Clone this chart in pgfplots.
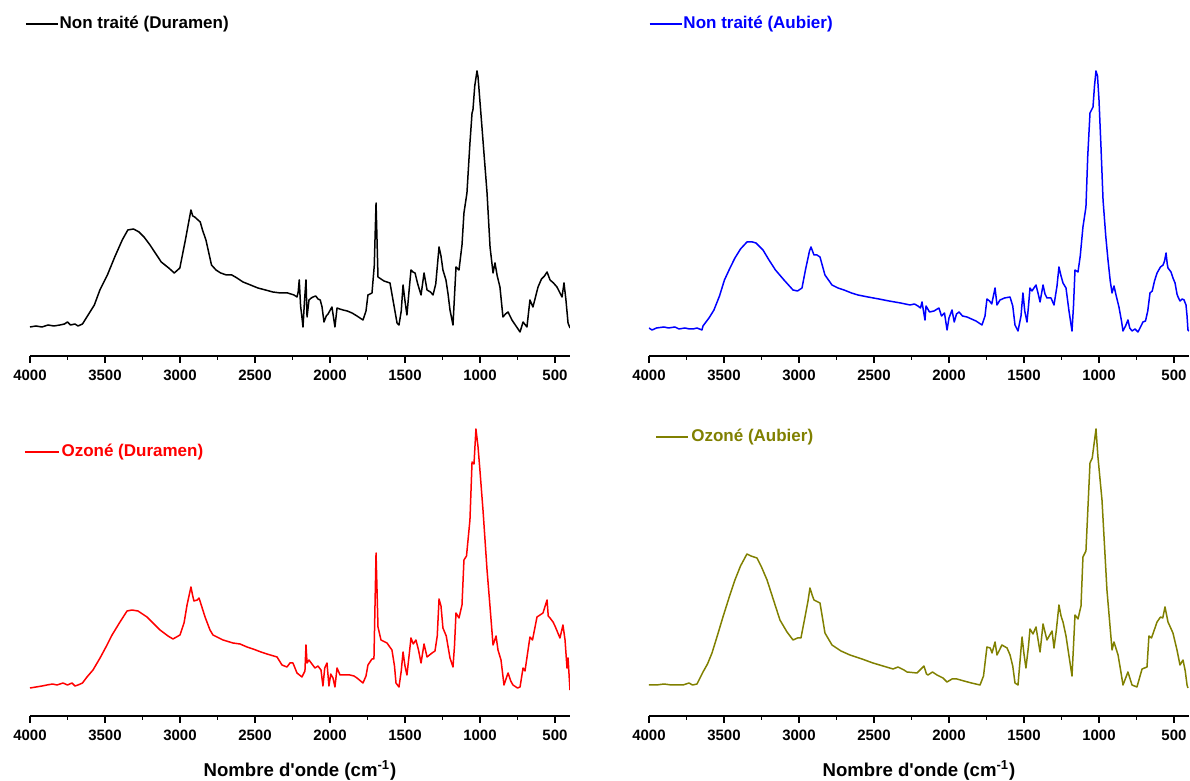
\documentclass[border=0pt]{standalone}
\usepackage{fontspec}
\setmainfont{Liberation Sans}
\usepackage{pgfplots}
\pgfplotsset{compat=1.18}
\definecolor{ozolive}{RGB}{128,128,0}

\pgfplotsset{
  ftir/.style={
    scale only axis, width=270pt, height=158pt,
    x dir=reverse, xmin=400, xmax=4000, ymin=0, ymax=316,
    axis x line=bottom, axis y line=none,
    axis line style={line width=0.8pt,-},
    xtick={500,1000,...,4000}, minor x tick num=1,
    tick align=outside, major tick length=3.5pt, minor tick length=2pt,
    every tick/.style={black,line width=0.8pt},
    x tick label style={font=\bfseries\fontsize{7.5}{9}\selectfont},
    /pgf/number format/assume math mode=true,
    /pgf/number format/set thousands separator={},
    legend style={draw=none, fill=none, inner sep=0pt, outer sep=0pt, anchor=west,
      font=\bfseries\fontsize{8.5}{10}\selectfont, nodes={inner sep=0.5pt}},
    legend cell align=left,
    legend image code/.code={\draw[#1] (0pt,0pt) -- (16pt,0pt);},
  },
  spec/.style={line width=0.75pt, line join=round},
  wlabel/.style={xlabel={Nombre d\textquotesingle onde (cm\textsuperscript{-1})},
    xlabel style={font=\bfseries\fontsize{9.3}{11}\selectfont,
      at={(axis description cs:0.5,0)}, anchor=base, yshift=-30.5pt}},
}

\begin{document}
\begin{tikzpicture}
\useasboundingbox (0,0) rectangle (595pt,390.5pt);

% Non traite (Duramen)
\begin{axis}[ftir, at={(15pt,212.5pt)}, anchor=south west,
  legend style={at={(axis description cs:-0.009,1.05)}}]
\addplot[spec, black] coordinates {
(4000,29) (3960,30) (3920,29) (3880,31) (3840,30) (3800,31) (3770,32) (3750,34) (3730,31)
(3700,32) (3680,30) (3650,32) (3621,39) (3571,51) (3534,66) (3484,81) (3435,99) (3385,116)
(3348,126) (3310,127) (3273,124) (3240,119) (3200,111) (3125,94) (3075,88) (3038,83) (3001,88)
(2964,116) (2927,146) (2915,140) (2902,139) (2865,134) (2850,126) (2827,116) (2790,91)
(2760,86) (2729,83) (2690,81) (2654,81) (2620,78) (2580,74) (2530,71) (2481,68) (2430,66)
(2381,64) (2330,63) (2282,63) (2240,61) (2220,59) (2212,64) (2205,76) (2196,50) (2188,40)
(2180,29) (2170,55) (2160,76) (2153,39) (2140,56) (2125,58) (2113,59) (2095,60) (2080,57)
(2065,56) (2053,49) (2040,34) (2025,40) (2013,42) (1987,49) (1967,29) (1953,48) (1935,47)
(1913,46) (1885,45) (1853,43) (1820,40) (1780,36) (1760,45) (1747,61) (1720,63) (1705,90)
(1693,153) (1680,79) (1660,77) (1640,75) (1600,73) (1580,56) (1553,33) (1540,31) (1525,45)
(1513,71) (1500,55) (1487,41) (1473,65) (1460,86) (1447,84) (1433,83) (1415,72) (1393,61)
(1373,83) (1353,66) (1330,64) (1313,61) (1295,72) (1273,109) (1260,100) (1247,86) (1227,76)
(1213,62) (1200,46) (1180,31) (1170,60) (1160,89) (1140,86) (1120,111) (1107,143) (1087,163)
(1067,213) (1053,243) (1047,246) (1035,270) (1020,285) (1013,279) (987,229) (953,163)
(933,109) (913,83) (900,93) (885,80) (867,69) (847,39) (830,42) (813,44) (787,36) (760,30)
(733,24) (713,34) (687,29) (667,56) (647,49) (613,69) (590,77) (570,80) (553,84) (533,76)
(510,73) (487,69) (470,64) (453,59) (440,73) (427,56) (413,33) (400,28)
};
\addlegendentry{Non traité (Duramen)}
\end{axis}

% Non traite (Aubier)
\begin{axis}[ftir, at={(324.5pt,212.5pt)}, anchor=south west,
  legend style={at={(axis description cs:0.0,1.05)}, text=blue}]
\addplot[spec, blue] coordinates {
(4000,28) (3980,26) (3950,28) (3900,29) (3870,28) (3827,29) (3800,27) (3760,28) (3730,27)
(3707,27) (3680,28) (3647,26) (3640,30) (3600,38) (3567,46) (3530,60) (3497,76) (3460,88)
(3427,98) (3390,107) (3347,114) (3310,114) (3287,113) (3240,106) (3200,96) (3157,86)
(3100,76) (3040,66) (3010,65) (2980,68) (2957,86) (2930,105) (2920,109) (2900,101)
(2880,101) (2860,99) (2827,81) (2780,71) (2740,68) (2700,66) (2650,63) (2607,61) (2540,59)
(2467,57) (2400,55) (2323,53) (2260,51) (2230,52) (2207,50) (2190,48) (2180,54) (2160,36)
(2153,50) (2130,44) (2100,45) (2067,48) (2050,40) (2030,43) (2013,26) (2000,38) (1980,46)
(1965,34) (1950,42) (1933,44) (1910,40) (1880,39) (1850,37) (1820,35) (1780,31) (1760,40)
(1747,57) (1730,55) (1715,52) (1693,68) (1680,51) (1660,56) (1630,58) (1593,59) (1575,50)
(1560,31) (1540,25) (1520,40) (1507,63) (1495,45) (1480,34) (1470,50) (1460,68) (1447,65)
(1420,71) (1405,62) (1393,54) (1373,71) (1360,62) (1347,58) (1320,58) (1300,51) (1280,70)
(1267,89) (1253,80) (1240,73) (1220,68) (1200,45) (1180,25) (1170,50) (1160,86) (1140,84)
(1125,100) (1107,129) (1087,149) (1075,200) (1060,243) (1040,249) (1030,270) (1020,285)
(1010,280) (1000,256) (987,210) (973,156) (955,120) (940,96) (925,75) (913,63) (900,70)
(885,60) (867,49) (850,35) (840,25) (823,30) (807,36) (795,28) (780,25) (760,27) (740,24)
(720,30) (707,34) (690,35) (675,45) (660,63) (645,65) (630,75) (613,83) (590,89) (573,91)
(563,95) (553,103) (545,92) (540,88) (520,84) (507,78) (493,73) (480,62) (473,59) (460,55)
(445,57) (433,56) (420,51) (413,40) (407,26) (400,25)
};
\addlegendentry{Non traité (Aubier)}
\end{axis}

% Ozone (Duramen)
\begin{axis}[ftir, wlabel, at={(15pt,32.5pt)}, anchor=south west,
  legend image code/.code={\draw[#1] (0pt,0pt) -- (17pt,0pt);},
  legend style={at={(axis description cs:-0.011,0.835)}, text=red, nodes={inner sep=1pt}}]
\addplot[spec, red] coordinates {
(4000,28) (3960,29) (3920,30) (3887,31) (3850,32) (3820,31) (3780,33) (3750,31) (3720,33)
(3700,30) (3680,31) (3650,33) (3620,39) (3580,46) (3533,58) (3490,70) (3453,81) (3400,94)
(3353,105) (3320,106) (3280,105) (3220,99) (3180,93) (3133,86) (3080,80) (3047,77) (3000,81)
(2973,93) (2953,111) (2927,129) (2915,120) (2907,115) (2885,116) (2873,118) (2833,99)
(2800,86) (2780,81) (2713,76) (2647,73) (2600,72) (2553,69) (2513,67) (2460,64) (2420,62)
(2353,59) (2320,51) (2287,49) (2267,53) (2247,53) (2220,43) (2187,39) (2167,45) (2160,71)
(2153,53) (2140,56) (2120,52) (2100,48) (2080,50) (2060,46) (2047,30) (2035,48) (2020,53)
(2007,30) (1995,42) (1980,38) (1967,29) (1953,48) (1933,41) (1900,41) (1867,41) (1840,40)
(1820,38) (1780,33) (1760,40) (1747,51) (1720,57) (1707,57) (1693,163) (1680,89) (1660,76)
(1620,73) (1587,66) (1570,50) (1560,33) (1540,29) (1525,45) (1513,64) (1500,50) (1487,41)
(1473,60) (1460,78) (1445,72) (1427,76) (1410,66) (1393,53) (1373,72) (1353,59) (1320,63)
(1300,65) (1285,80) (1273,117) (1260,110) (1247,88) (1225,80) (1200,58) (1180,49) (1170,70)
(1160,103) (1140,98) (1120,111) (1107,156) (1090,160) (1067,196) (1053,254) (1040,252)
(1027,287) (1013,269) (1000,245) (980,206) (953,146) (933,109) (913,71) (893,80) (880,66)
(860,56) (840,31) (813,43) (795,35) (780,31) (750,28) (733,29) (713,48) (700,45) (667,79)
(650,76) (620,99) (600,101) (580,103) (553,116) (545,100) (533,98) (513,94) (500,90)
(467,78) (447,91) (433,76) (420,48) (413,58) (400,26)
};
\addlegendentry{Ozoné (Duramen)}
\end{axis}

% Ozone (Aubier)
\begin{axis}[ftir, wlabel, at={(324.5pt,32.5pt)}, anchor=south west,
  legend image code/.code={\draw[#1] (0pt,0pt) -- (16pt,0pt);},
  legend style={at={(axis description cs:0.012,0.883)}, text=ozolive, nodes={inner sep=1.2pt}}]
\addplot[spec, ozolive] coordinates {
(4000,31) (3950,31) (3900,32) (3850,31) (3800,31) (3773,31) (3733,33) (3710,31) (3680,32)
(3640,44) (3610,52) (3580,63) (3545,80) (3507,99) (3467,118) (3427,136) (3390,150)
(3347,162) (3320,160) (3280,158) (3250,149) (3213,136) (3170,116) (3127,96) (3080,84)
(3040,76) (3010,78) (2987,78) (2960,99) (2940,115) (2927,128) (2910,120) (2900,116)
(2860,113) (2840,95) (2827,83) (2780,71) (2720,65) (2660,61) (2580,57) (2507,53) (2440,50)
(2373,47) (2340,49) (2300,46) (2280,44) (2213,43) (2173,49) (2167,50) (2150,42) (2140,41)
(2110,44) (2080,41) (2040,38) (2013,34) (1980,37) (1947,37) (1900,35) (1850,33) (1793,31)
(1770,40) (1747,69) (1725,68) (1713,63) (1693,74) (1680,61) (1647,71) (1613,68) (1593,61)
(1575,50) (1560,33) (1540,31) (1513,79) (1500,62) (1487,48) (1470,70) (1460,87) (1440,82)
(1420,89) (1393,64) (1373,92) (1347,76) (1313,85) (1300,68) (1285,85) (1267,111) (1253,100)
(1240,94) (1220,80) (1200,60) (1180,40) (1170,70) (1160,101) (1140,97) (1120,110)
(1107,159) (1087,165) (1060,253) (1045,258) (1020,287) (1007,259) (980,216) (947,126)
(913,66) (900,74) (873,61) (855,45) (840,31) (807,44) (780,31) (747,29) (713,47) (680,49)
(667,80) (650,78) (613,94) (590,99) (575,98) (560,109) (540,94) (507,83) (480,66) (460,51)
(440,56) (425,45) (413,31) (407,28)
};
\addlegendentry{Ozoné (Aubier)}
\end{axis}
\end{tikzpicture}
\end{document}
